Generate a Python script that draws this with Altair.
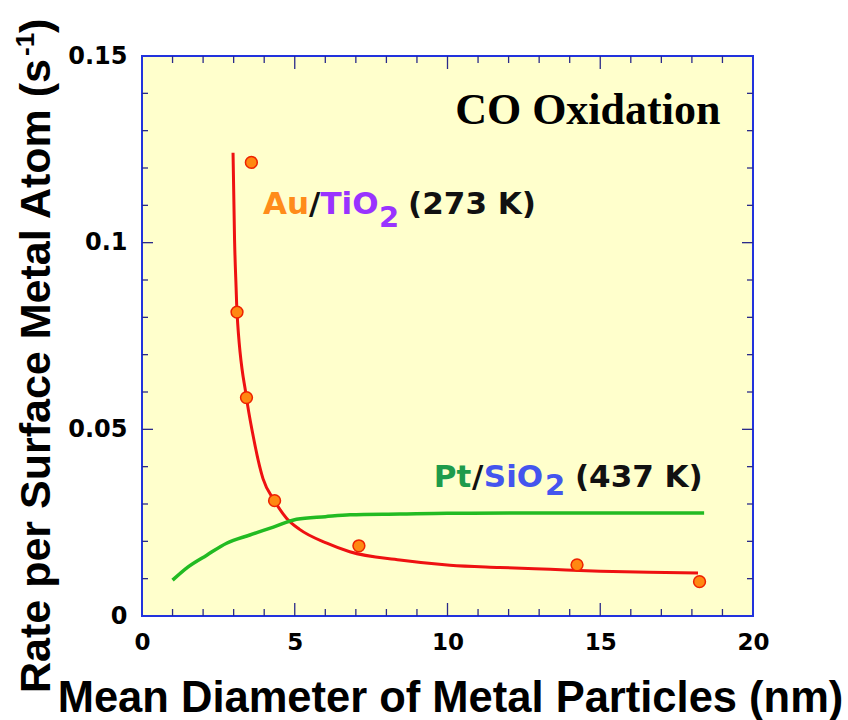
import altair as alt
import pandas as pd

# Au/TiO2 (273 K): measured turnover rates and the fitted curve through them
au_pts_x = [3.58, 3.11, 3.42, 4.34, 7.1, 14.24, 18.25]
au_pts_y = [0.1215, 0.0814, 0.0585, 0.0309, 0.0188, 0.0137, 0.0092]

au_fit_x = [2.98, 3.03, 3.08, 3.11, 3.42, 3.62, 3.96, 4.34, 4.73, 5.16,
            6.05, 6.8, 8.44, 10.08, 11.7, 13.36, 15.0, 16.6, 18.2]
au_fit_y = [0.1241, 0.1007, 0.088, 0.0814, 0.0585, 0.049, 0.0368, 0.0308, 0.0262, 0.0232,
            0.0195, 0.0172, 0.0150, 0.0136, 0.0130, 0.0125, 0.0120, 0.0117, 0.0115]

# Pt/SiO2 (437 K) trend
pt_x = [1.0, 1.5, 2.12, 2.77, 3.53, 4.3, 5.06, 6.0, 6.81, 8.44, 10.0, 14.0, 18.4]
pt_y = [0.0096, 0.0131, 0.0163, 0.0195, 0.0217, 0.0238, 0.0259, 0.0266, 0.0271, 0.0273,
        0.0275, 0.0276, 0.0276]

# tick positions
x_labels = [0, 5, 10, 15, 20]
y_labels = [0, 0.05, 0.1, 0.15]
x_minor = [1, 2, 3, 4, 6, 7, 8, 9, 11, 12, 13, 14, 16, 17, 18, 19]
x_major = [5, 10, 15]
y_minor = [0.01, 0.02, 0.03, 0.04, 0.06, 0.07, 0.08, 0.09, 0.11, 0.12, 0.13, 0.14]
y_major = [0.05, 0.10]

# in-plot labels, split into coloured runs
ann_text = ["Au", "/", "TiO", "2", "(273 K)",
            "Pt", "/", "SiO", "2", "(437 K)"]
ann_x = [3.96, 5.47, 5.84, 7.76, 8.71,
         9.55, 10.80, 11.19, 13.19, 14.17]
ann_y = [0.1077, 0.1077, 0.1077, 0.1042, 0.1077,
         0.0345, 0.0345, 0.0345, 0.0324, 0.0345]
ann_color = ["#FF8C1A", "#111111", "#9933FF", "#9933FF", "#111111",
             "#1E9B4B", "#111111", "#4455EE", "#4455EE", "#111111"]
ann_size = [31, 31, 31, 29, 31, 31, 31, 31, 29, 31]

title_text = ["CO Oxidation"]
title_x = [10.25]
title_y = [0.1319]

y_title_parts = ["Rate per Surface Metal Atom (s", "-1", ")"]

W, H = 611, 560
xs = alt.Scale(domain=[0, 20], nice=False, zero=False)
ys = alt.Scale(domain=[0, 0.15], nice=False, zero=False)

x_axis = alt.Axis(
    values=x_labels, format="d", ticks=False, domain=False, grid=False,
    labelFont="DejaVu Sans", labelFontWeight="bold", labelFontSize=23,
    labelColor="black", labelPadding=15, labelFlush=False,
    title="Mean Diameter of Metal Particles (nm)", titleFont="Liberation Sans",
    titleFontSize=43.5, titleFontWeight="bold", titleColor="black",
    titleX=308, titleY=95, titleBaseline="alphabetic", titleAlign="center",
)
y_axis = alt.Axis(
    values=y_labels, format="~g", ticks=False, domain=False, grid=False,
    labelFont="DejaVu Sans", labelFontWeight="bold", labelFontSize=24,
    labelColor="black", labelPadding=15, title=None,
)

au_fit = alt.Chart(pd.DataFrame({"x": au_fit_x, "y": au_fit_y})).mark_line(
    color="#EE1111", strokeWidth=3, interpolate="monotone"
).encode(x=alt.X("x:Q", scale=xs, axis=x_axis), y=alt.Y("y:Q", scale=ys, axis=y_axis))

pt_line = alt.Chart(pd.DataFrame({"x": pt_x, "y": pt_y})).mark_line(
    color="#22BB22", strokeWidth=3.5, interpolate="monotone"
).encode(x=alt.X("x:Q", scale=xs), y=alt.Y("y:Q", scale=ys))

au_points = alt.Chart(pd.DataFrame({"x": au_pts_x, "y": au_pts_y})).mark_point(
    shape="circle", filled=True, size=140, fill="#FF8811", stroke="#EE2200",
    strokeWidth=1.5, opacity=1
).encode(x=alt.X("x:Q", scale=xs), y=alt.Y("y:Q", scale=ys))

tick_color = "#2A2A8A"


def xticks(vals, length):
    d = pd.DataFrame({"x": vals})
    bottom = alt.Chart(d).mark_rule(color=tick_color, strokeWidth=1.3).encode(
        x=alt.X("x:Q", scale=xs), y=alt.value(H), y2=alt.value(H - length))
    top = alt.Chart(d).mark_rule(color=tick_color, strokeWidth=1.3).encode(
        x=alt.X("x:Q", scale=xs), y=alt.value(0), y2=alt.value(length))
    return [bottom, top]


def yticks(vals, length):
    d = pd.DataFrame({"y": vals})
    left = alt.Chart(d).mark_rule(color=tick_color, strokeWidth=1.3).encode(
        y=alt.Y("y:Q", scale=ys), x=alt.value(0), x2=alt.value(length))
    right = alt.Chart(d).mark_rule(color=tick_color, strokeWidth=1.3).encode(
        y=alt.Y("y:Q", scale=ys), x=alt.value(W), x2=alt.value(W - length))
    return [left, right]


ticks = xticks(x_minor, 7) + xticks(x_major, 13) + yticks(y_minor, 6) + yticks(y_major, 11)

ann = alt.Chart(pd.DataFrame({
    "x": ann_x, "y": ann_y, "t": ann_text, "c": ann_color, "s": ann_size
})).mark_text(
    align="left", baseline="alphabetic", font="DejaVu Sans", fontWeight="bold"
).encode(
    x=alt.X("x:Q", scale=xs), y=alt.Y("y:Q", scale=ys), text="t:N",
    color=alt.Color("c:N", scale=None), size=alt.Size("s:Q", scale=None),
)

co_title = alt.Chart(pd.DataFrame({"x": title_x, "y": title_y, "t": title_text})).mark_text(
    align="left", baseline="alphabetic", font="Liberation Serif", fontWeight="bold",
    fontSize=44, color="black"
).encode(x=alt.X("x:Q", scale=xs), y=alt.Y("y:Q", scale=ys), text="t:N")


def ytitle_piece(txt, px, py, fs):
    return alt.Chart(pd.DataFrame({"t": [txt]})).mark_text(
        angle=270, align="left", baseline="alphabetic", font="Liberation Sans",
        fontWeight="bold", fontSize=fs, color="black"
    ).encode(x=alt.value(px), y=alt.value(py), text="t:N")


y_title = [
    ytitle_piece(y_title_parts[0], -92, 637, 43),
    ytitle_piece(y_title_parts[1], -108, 0, 26),
    ytitle_piece(y_title_parts[2], -92, -23, 43),
]

chart = alt.layer(
    au_fit, pt_line, au_points, *ticks, ann, co_title, *y_title
).properties(
    width=W, height=H,
    autosize=alt.AutoSizeParams(type="none"),
    padding={"left": 142, "top": 56, "right": 95, "bottom": 104},
    background="white",
).configure_view(
    fill="#FFFFCC", stroke="#2233DD", strokeWidth=2
)

chart.save("out.html", embed_options={"renderer": "svg", "actions": False})
